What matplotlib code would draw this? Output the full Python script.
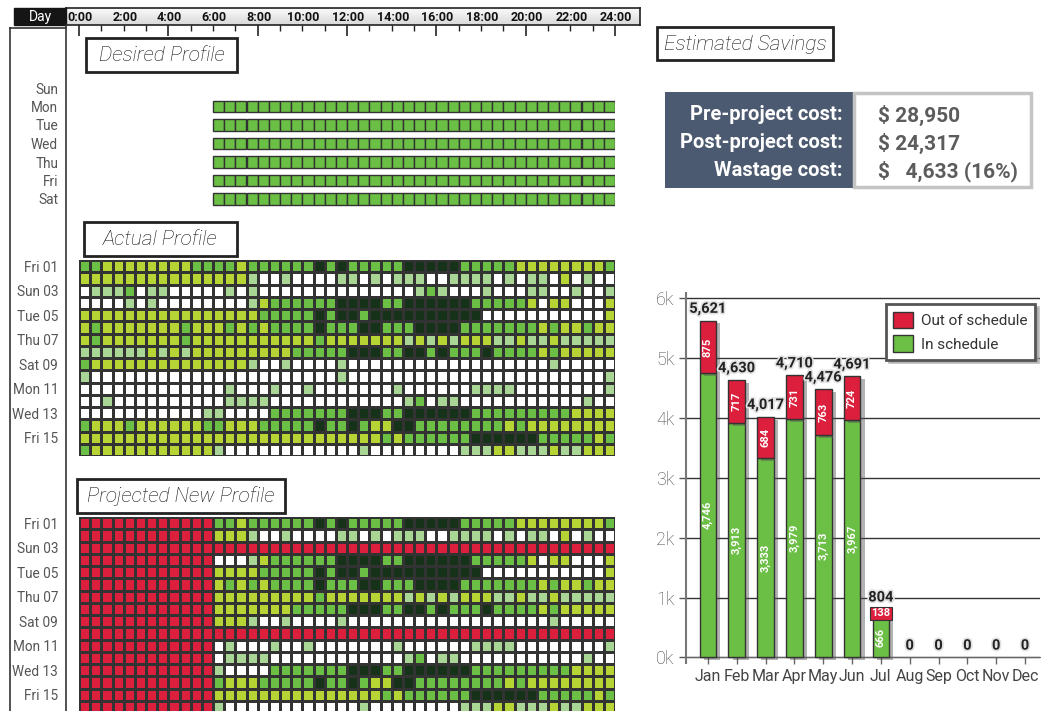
import numpy as np
import matplotlib
matplotlib.use("Agg")
import matplotlib.pyplot as plt
import matplotlib.patheffects as pe
from matplotlib.patches import Rectangle
from matplotlib.colors import ListedColormap

plt.rcParams['font.family'] = ['Roboto', 'DejaVu Sans']

# ------------------------------------------------------------------ data
hour_ticks = [0, 2, 4, 6, 8, 10, 12, 14, 16, 18, 20, 22, 24]
hour_labels = [f"{h}:00" for h in hour_ticks]

week_days = ['Sun', 'Mon', 'Tue', 'Wed', 'Thu', 'Fri', 'Sat']
schedule_days = ['Mon', 'Tue', 'Wed', 'Thu', 'Fri', 'Sat']
schedule_start, schedule_end = 6.0, 24.0

dates = ['Fri 01', 'Sat 02', 'Sun 03', 'Mon 04', 'Tue 05', 'Wed 06', 'Thu 07', 'Fri 08',
         'Sat 09', 'Sun 10', 'Mon 11', 'Tue 12', 'Wed 13', 'Thu 14', 'Fri 15', 'Sat 16']

# half-hourly load per day (4 blocks of 6 h): W none, L low, Y medium, G high, D peak
load_rows = [
    "GGYYYYYYYYGG GGYGGGGGGDGD GGGGGDDDDDGG GGGYYYYYYYYG",
    "YYYYYYYYYYYY YYYLWWLWWWWL LWLWLLLWWLLL LWLWLLWYWLWW",
    "WLLLGWLLWWWW WLWLWWWWWWWW WWWWWWLGLWWW LWWWLLWWLWWL",
    "WWWWLWLWWWWW WWWLYGGGGGGD DDDGGDDDDDDG GGGGYWYYWWWY",
    "YYYYYYYYYYYY YYYYGGGGGDGD DGDDDDDDDDDD WWWWWWWWWWWY",
    "YGYYYYYYYGYY YGYGYGGGGDGG GDDGGGDDDDGG GGGGGYGYYGYY",
    "YGYYYYYYYGYY YYYYYYYYYGYY YYYYYLYLYLYY YLLYLLYLLLLL",
    "LLLLLLYLYLYY YYYYYYYGGGGG DDDGGDDGDGGG DGGGGYGYYYYY",
    "GYYYYYYYYYYY YYYLWWLWWWWL WWWWWWWWWWWW WWWWWWLWWWWW",
    "LWWWWWWWWWWW WWWWWWWWWWWL WWWWWWWWWWWW WWWWWWWWWWWL",
    "WWWWWWWWWWWW WLWWWLWWLWWW WWWWLWWWWWWL LLLWWWWWWWWL",
    "WWLWWWWWWWWW WLLLLWWWWWWW WWWWWLGWLLWW WWWWWWWWWLWW",
    "WWWWWWWWWWWL LWWWWGGGGGGG DDDGGDDDDDDG GGGGGGGGYYYY",
    "GYYYGYYYYYYG GYYYGGGGGDGG DGYYDDGGGGGG GGYGYYYYYYYY",
    "YYYYYYYYYYYY YYYYYYYYYYYY YYYGYGGGGGGD DDDDDGGGGGYG",
    "GYYYYYYYYYYY LWWWWWWWWWWW WLWWWWWWWWLL LYYLLLYLLYYY",
]
level_codes = "WLYGD"

months = ['Jan', 'Feb', 'Mar', 'Apr', 'May', 'Jun',
          'Jul', 'Aug', 'Sep', 'Oct', 'Nov', 'Dec']
in_schedule = [4746, 3913, 3333, 3979, 3713, 3967, 666, 0, 0, 0, 0, 0]
out_of_schedule = [875, 717, 684, 731, 763, 724, 138, 0, 0, 0, 0, 0]

pre_cost = 28950
post_cost = 24317
wastage_cost = 4633

# ------------------------------------------------------------------ style
level_colors = ['#ffffff', '#a9d695', '#b6d433', '#6cbf45', '#163219']
out_color = '#dc1f3c'
green = '#6cbf45'
cell_edge = '#333333'
label_color = '#555555'

FW, FH = 1047, 711
fig = plt.figure(figsize=(FW / 100, FH / 100), dpi=100)


def px_axes(x0, y0, x1, y1, **kw):
    """Axes placed by pixel box (top-left origin)."""
    return fig.add_axes([x0 / FW, 1 - y1 / FH, (x1 - x0) / FW, (y1 - y0) / FH], **kw)


# overlay in pixel coordinates for frames and captions
ov = px_axes(0, 0, FW, FH)
ov.set_xlim(0, FW)
ov.set_ylim(FH, 0)
ov.axis('off')
ov.set_zorder(10)

X0, X1 = 79, 615            # pixel span of 0:00 .. 24:00
PPH = (X1 - X0) / 24.0      # pixels per hour
ROW_H = 12.25


def hours_at(px):
    return (px - X0) / PPH


# ------------------------------------------------------------------ header
hdr = px_axes(66, 8, 640, 25)
hdr.set_xlim(hours_at(66), hours_at(640))
hdr.set_ylim(0, 1)
grad = np.linspace(0.98, 0.85, 32).reshape(-1, 1)
hdr.imshow(grad, cmap='gray', vmin=0, vmax=1, aspect='auto',
           extent=(hours_at(66), hours_at(640), 0, 1), origin='upper', zorder=0)
for s in hdr.spines.values():
    s.set_color('#222222')
    s.set_linewidth(1.2)
hdr.set_yticks([])
hdr.set_xticks(range(0, 25, 4))
hdr.set_xticks(range(0, 25), minor=True)
hdr.tick_params(axis='x', which='major', length=8, width=1.2, color='#222222',
                labelbottom=False)
hdr.tick_params(axis='x', which='minor', length=4, width=1.0, color='#222222')
for h, lab in zip(hour_ticks, hour_labels):
    hdr.text(h + 0.05, 0.47, lab, ha='center', va='center', fontsize=9,
             fontweight='bold', color='#111111')

ov.add_patch(Rectangle((14, 8), 52, 17, fc='#151515', ec='#151515', lw=1))
ov.text(40, 16.8, 'Day', color='white', fontsize=10, ha='center', va='center')

# left label column frame
ov.plot([10, 10], [28, FH], color='#333333', lw=1.2)
ov.plot([66, 66], [25, FH], color='#333333', lw=1.2)
ov.plot([10, 66], [28, 28], color='#333333', lw=1.2)


def title_box(x0, y0, x1, y1, text, size=15):
    ov.add_patch(Rectangle((x0, y0), x1 - x0, y1 - y0, fc='white', ec='#222222', lw=2))
    ov.text((x0 + x1) / 2, (y0 + y1) / 2 + 0.5, text, ha='center', va='center',
            fontsize=size, style='italic', fontweight='light', color='#111111')


def style_day_axis(ax, ticks, labels):
    ax.set_yticks(ticks, labels)
    ax.set_xticks([])
    ax.tick_params(axis='y', length=0, pad=15, labelsize=9.8, labelcolor=label_color)
    for s in ax.spines.values():
        s.set_visible(False)
    ax.patch.set_visible(False)


# ------------------------------------------------------------------ desired profile
title_box(86, 38, 237, 72, 'Desired Profile')
DES_TOP, DES_STEP = 78.75, 18.5
des = px_axes(X0, DES_TOP, X1, DES_TOP + 7 * DES_STEP)
des.set_xlim(0, 24)
des.set_ylim(7, 0)
for r, day in enumerate(week_days):
    if day in schedule_days:
        for h in np.arange(schedule_start, schedule_end, 0.5):
            des.add_patch(Rectangle((h, r + 0.2), 0.5, 0.6, fc=green,
                                    ec=cell_edge, lw=1))
style_day_axis(des, np.arange(7) + 0.5, week_days)

# ------------------------------------------------------------------ heatmaps
actual = np.array([[level_codes.index(c) for c in row.replace(' ', '')]
                   for row in load_rows])
half_hours = np.arange(48) * 0.5
in_hours = (half_hours >= schedule_start) & (half_hours < schedule_end)
in_days = np.array([d.split()[0] in schedule_days for d in dates])
projected = np.where(in_days[:, None] & in_hours[None, :], actual, 5)

cmap = ListedColormap(level_colors + [out_color])


def heat_axes(top, grid):
    ax = px_axes(X0, top, X1, top + len(dates) * ROW_H)
    ax.pcolormesh(np.arange(49) * 0.5, np.arange(len(dates) + 1), grid, cmap=cmap,
                  vmin=-0.5, vmax=5.5, edgecolors=cell_edge, linewidth=1.0)
    ax.set_xlim(0, 24)
    ax.set_ylim(len(dates), 0)
    style_day_axis(ax, np.arange(0, len(dates), 2) + 0.5, dates[::2])
    return ax


title_box(84, 222, 237, 256, 'Actual Profile')
heat_axes(260, actual)

title_box(77, 479, 285, 513, 'Projected New Profile')
heat_axes(517, projected)

# ------------------------------------------------------------------ savings table
ov.add_patch(Rectangle((657, 27), 176, 33, fc='white', ec='#222222', lw=2))
ov.text(745, 44, 'Estimated Savings', ha='center', va='center', fontsize=15,
        style='italic', fontweight='light', color='#111111')

ov.add_patch(Rectangle((665, 92), 188, 96, fc='#4b5a70', ec='none'))
ov.add_patch(Rectangle((854, 93), 177, 94, fc='white', ec='#c4c4c4', lw=2.5))
pct = wastage_cost / pre_cost * 100
cost_rows = [('Pre-project cost:', f"$ {pre_cost:,}"),
             ('Post-project cost:', f"$ {post_cost:,}"),
             ('Wastage cost:', f"$   {wastage_cost:,} ({pct:.0f}%)")]
for k, (lab, val) in enumerate(cost_rows):
    y = 115 + 28 * k
    ov.text(843, y, lab, ha='right', va='center', fontsize=14.5, fontweight='bold',
            color='white')
    ov.text(878, y, val, ha='left', va='center', fontsize=15, fontweight='bold',
            color='#5c5c5c')

# ------------------------------------------------------------------ monthly bars
bx = px_axes(685.7, 293, 1040, 663)
x = np.arange(len(months))
shadow = [pe.SimplePatchShadow(offset=(3, -2), shadow_rgbFace='#555555', alpha=0.45),
          pe.Normal()]
g_bars = bx.bar(x, in_schedule, width=0.58, color=green, edgecolor=cell_edge, lw=1,
                path_effects=shadow, zorder=3)
r_bars = bx.bar(x, out_of_schedule, bottom=in_schedule, width=0.58, color=out_color,
                edgecolor=cell_edge, lw=1, path_effects=shadow, zorder=3)
for bars, vals in ((g_bars, in_schedule), (r_bars, out_of_schedule)):
    for p, v in zip(bars, vals):
        if v == 0:
            p.set_visible(False)

totals = np.array(in_schedule) + np.array(out_of_schedule)
halo = [pe.withStroke(linewidth=2.5, foreground='#e2e2e2')]
for i, t in enumerate(totals):
    bx.annotate(f"{t:,}", (i, t), xytext=(0, 3.5), textcoords='offset points',
                ha='center', va='bottom', fontsize=10.5, fontweight='bold',
                color='#222222', path_effects=halo, zorder=5)


def seg_label(i, bottom, value, fill):
    if value <= 0:
        return
    if value > 400:
        bx.text(i, bottom + value / 2, f"{value:,}", rotation=90, ha='center',
                va='center', color='white', fontsize=8, fontweight='bold', zorder=5)
    else:
        # short segment: horizontal label on a swatch of the segment colour
        bx.text(i, bottom + value / 2, f"{value:,}", ha='center', va='center',
                color='white', fontsize=8, fontweight='bold', zorder=5,
                bbox=dict(boxstyle='square,pad=0.12', fc=fill, ec=cell_edge, lw=0.8))


for i in range(len(months)):
    seg_label(i, 0, in_schedule[i], green)
    seg_label(i, in_schedule[i], out_of_schedule[i], out_color)

bx.set_xlim(-0.77, 11.52)
bx.set_ylim(-92, 6083)
bx.set_yticks(range(0, 6001, 1000), [f"{k}k" for k in range(7)])
bx.set_xticks(x, months)
bx.tick_params(axis='y', length=5, width=1, color='#555555', labelsize=13,
               labelcolor='#444444', pad=3)
bx.tick_params(axis='x', length=5, width=1, color='#666666', labelsize=11.5,
               labelcolor='#444444', pad=3)
for lab in bx.get_xticklabels() + bx.get_yticklabels():
    lab.set_fontweight('light')
bx.spines['bottom'].set_position(('data', 0))
bx.spines['bottom'].set_color('#666666')
bx.spines['left'].set_color('#777777')
bx.spines['left'].set_linewidth(1.5)
bx.spines['top'].set_visible(False)
bx.spines['right'].set_visible(False)
bx.yaxis.grid(True, color='#333333', lw=1)
bx.set_axisbelow(True)
bx.patch.set_visible(False)

handles = [Rectangle((0, 0), 1, 1, fc=out_color, ec=cell_edge, lw=1),
           Rectangle((0, 0), 1, 1, fc=green, ec=cell_edge, lw=1)]
leg = bx.legend(handles, ['Out of schedule', 'In schedule'], loc='upper right',
                bbox_to_anchor=(0.986, 0.97), borderaxespad=0, fontsize=11,
                fancybox=False, edgecolor='#555555', framealpha=1,
                shadow={'color': '#999999', 'alpha': 0.6},
                handlelength=1.3, handleheight=1.3, handletextpad=0.5,
                labelspacing=0.45, borderpad=0.5, labelcolor='#333333')
leg.get_frame().set_linewidth(2)
leg.set_zorder(6)

fig.savefig('out.png', dpi=100, facecolor='white')
